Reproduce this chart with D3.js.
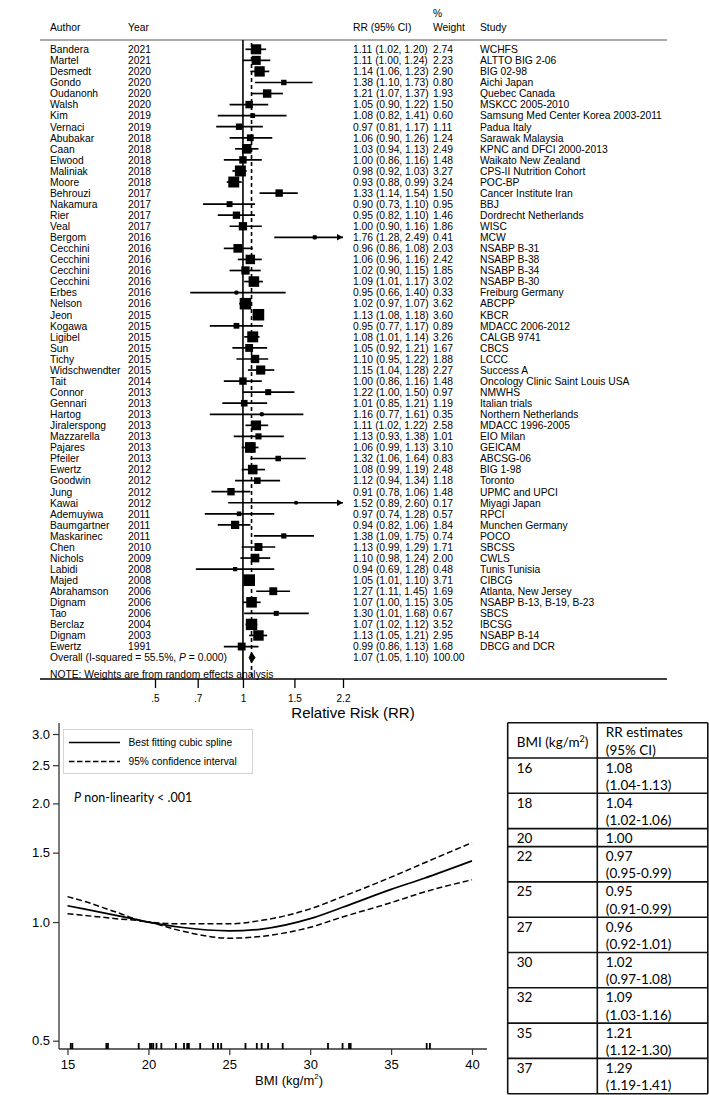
<!DOCTYPE html>
<html>
<head>
<meta charset="utf-8">
<script src="https://cdn.jsdelivr.net/npm/d3@7"></script>
<style>
body{margin:0;background:#fff;}
svg text{font-family:"Liberation Sans",Arial,Helvetica,sans-serif;fill:#000;}
svg text.cal{font-family:Lato,"Open Sans",sans-serif;}
</style>
</head>
<body>
<div id="chart"></div>
<script>

// ---------- forest plot data ----------
var authors = ["Bandera","Martel","Desmedt","Gondo","Oudanonh","Walsh","Kim","Vernaci","Abubakar","Caan",
  "Elwood","Maliniak","Moore","Behrouzi","Nakamura","Rier","Veal","Bergom","Cecchini","Cecchini",
  "Cecchini","Cecchini","Erbes","Nelson","Jeon","Kogawa","Ligibel","Sun","Tichy","Widschwendter",
  "Tait","Connor","Gennari","Hartog","Jiralerspong","Mazzarella","Pajares","Pfeiler","Ewertz","Goodwin",
  "Jung","Kawai","Ademuyiwa","Baumgartner","Maskarinec","Chen","Nichols","Labidi","Majed","Abrahamson",
  "Dignam","Tao","Berclaz","Dignam","Ewertz"];
var years = [2021,2021,2020,2020,2020,2020,2019,2019,2018,2018,
  2018,2018,2018,2017,2017,2017,2017,2016,2016,2016,
  2016,2016,2016,2016,2015,2015,2015,2015,2015,2015,
  2014,2013,2013,2013,2013,2013,2013,2013,2012,2012,
  2012,2012,2011,2011,2011,2010,2009,2008,2008,2006,
  2006,2006,2004,2003,1991];
var rr = [1.11,1.11,1.14,1.38,1.21,1.05,1.08,0.97,1.06,1.03,
  1.00,0.98,0.93,1.33,0.90,0.95,1.00,1.76,0.96,1.06,
  1.02,1.09,0.95,1.02,1.13,0.95,1.08,1.05,1.10,1.15,
  1.00,1.22,1.01,1.16,1.11,1.13,1.06,1.32,1.08,1.12,
  0.91,1.52,0.97,0.94,1.38,1.13,1.10,0.94,1.05,1.27,
  1.07,1.30,1.07,1.13,0.99];
var rrLow = [1.02,1.00,1.06,1.10,1.07,0.90,0.82,0.81,0.90,0.94,
  0.86,0.92,0.88,1.14,0.73,0.82,0.90,1.28,0.86,0.96,
  0.90,1.01,0.66,0.97,1.08,0.77,1.01,0.92,0.95,1.04,
  0.86,1.00,0.85,0.77,1.02,0.93,0.99,1.06,0.99,0.94,
  0.78,0.89,0.74,0.82,1.09,0.99,0.98,0.69,1.01,1.11,
  1.00,1.01,1.02,1.05,0.86];
var rrHigh = [1.20,1.24,1.23,1.73,1.37,1.22,1.41,1.17,1.26,1.13,
  1.16,1.03,0.99,1.54,1.10,1.10,1.16,2.49,1.08,1.16,
  1.15,1.17,1.40,1.07,1.18,1.17,1.14,1.21,1.22,1.28,
  1.16,1.50,1.21,1.61,1.22,1.38,1.13,1.64,1.19,1.34,
  1.06,2.60,1.28,1.06,1.75,1.29,1.24,1.28,1.10,1.45,
  1.15,1.68,1.12,1.21,1.13];
var weights = [2.74,2.23,2.90,0.80,1.93,1.50,0.60,1.11,1.24,2.49,
  1.48,3.27,3.24,1.50,0.95,1.46,1.86,0.41,2.03,2.42,
  1.85,3.02,0.33,3.62,3.60,0.89,3.26,1.67,1.88,2.27,
  1.48,0.97,1.19,0.35,2.58,1.01,3.10,0.83,2.48,1.18,
  1.48,0.17,0.57,1.84,0.74,1.71,2.00,0.48,3.71,1.69,
  3.05,0.67,3.52,2.95,1.68];
var studies = ["WCHFS","ALTTO BIG 2-06","BIG 02-98","Aichi Japan","Quebec Canada","MSKCC 2005-2010",
  "Samsung Med Center Korea 2003-2011","Padua Italy","Sarawak Malaysia","KPNC and DFCI 2000-2013",
  "Waikato New Zealand","CPS-II Nutrition Cohort","POC-BP","Cancer Institute Iran","BBJ",
  "Dordrecht Netherlands","WISC","MCW","NSABP B-31","NSABP B-38","NSABP B-34","NSABP B-30",
  "Freiburg Germany","ABCPP","KBCR","MDACC 2006-2012","CALGB 9741","CBCS","LCCC","Success A",
  "Oncology Clinic Saint Louis USA","NMWHS","Italian trials","Northern Netherlands","MDACC 1996-2005",
  "EIO Milan","GEICAM","ABCSG-06","BIG 1-98","Toronto","UPMC and UPCI","Miyagi Japan","RPCI",
  "Munchen Germany","POCO","SBCSS","CWLS","Tunis Tunisia","CIBCG","Atlanta, New Jersey",
  "NSABP B-13, B-19, B-23","SBCS","IBCSG","NSABP B-14","DBCG and DCR"];
var overall = {rr: 1.07, low: 1.05, high: 1.10, weight: "100.00", i2: "55.5%", p: "0.000"};
var rrTicks = [0.5, 0.7, 1, 1.5, 2.2];
var rrTickLabels = [".5", ".7", "1", "1.5", "2.2"];

// ---------- spline plot data ----------
var bmiPoints   = [15,   16,   18,   20,   22,   25,   27,   30,   32,   35,   37,   40];
var splineRR    = [1.10, 1.08, 1.04, 1.00, 0.97, 0.95, 0.96, 1.02, 1.09, 1.21, 1.29, 1.43];
var splineUpper = [1.16, 1.13, 1.06, 1.00, 0.99, 0.99, 1.01, 1.08, 1.16, 1.30, 1.41, 1.59];
var splineLower = [1.05, 1.04, 1.02, 1.00, 0.95, 0.91, 0.92, 0.97, 1.03, 1.12, 1.19, 1.28];
var rugBmi = [15.2,15.3,17.4,17.5,19.4,20.1,20.2,20.3,20.5,20.8,21.7,22.2,22.4,22.5,23.2,
  24.0,24.3,24.5,26.0,26.7,27.0,27.4,28.3,31.1,32.0,32.4,32.5,37.2,37.4];
var bmiTicks = [15, 20, 25, 30, 35, 40];
var splineTicks = [0.5, 1.0, 1.5, 2.0, 2.5, 3.0];

// ---------- table data ----------
var tableBmi = ["16","18","20","22","25","27","30","32","35","37"];
var tableEst = ["1.08","1.04","1.00","0.97","0.95","0.96","1.02","1.09","1.21","1.29"];
var tableCI  = ["(1.04-1.13)","(1.02-1.06)","","(0.95-0.99)","(0.91-0.99)","(0.92-1.01)",
  "(0.97-1.08)","(1.03-1.16)","(1.12-1.30)","(1.19-1.41)"];


var svg = d3.select("#chart")
  .append("svg")
  .attr("width", 709)
  .attr("height", 1095);

//......................... Forest plot .........................................
function forest(){
  var x = d3.scaleLog().domain([0.5, 2.2]).range([155, 343]);
  var y = d3.scaleLinear().domain([0, 55]).range([49.3, 657.6]);
  var side = d3.scaleSqrt().domain([0, 3.71]).range([0, 11.7]);
  var xMax = 2.2;
  var fs = "10.3px";

  var g = svg.append("g").attr("class", "forest");

  // header
  var hdr = g.append("g").style("font-size", fs);
  hdr.append("text").attr("x", 50).attr("y", 31).text("Author");
  hdr.append("text").attr("x", 128).attr("y", 31).text("Year");
  hdr.append("text").attr("x", 353).attr("y", 31).text("RR (95% CI)");
  hdr.append("text").attr("x", 433).attr("y", 17).text("%");
  hdr.append("text").attr("x", 433).attr("y", 31).text("Weight");
  hdr.append("text").attr("x", 480).attr("y", 31).text("Study");

  g.append("line")
    .attr("x1", 40).attr("x2", 667).attr("y1", 40).attr("y2", 40)
    .attr("stroke", "#555").attr("stroke-width", 1);

  // reference lines
  g.append("line")
    .attr("x1", x(1)).attr("x2", x(1)).attr("y1", 40).attr("y2", 679)
    .attr("stroke", "#000").attr("stroke-width", 1.6);
  g.append("line")
    .attr("x1", x(overall.rr)).attr("x2", x(overall.rr)).attr("y1", 43).attr("y2", 679)
    .attr("stroke", "#000").attr("stroke-width", 1.6)
    .attr("stroke-dasharray", "4,3");

  var idx = d3.range(authors.length);

  var rows = g.append("g").style("font-size", fs)
    .selectAll("g")
    .data(idx)
    .enter()
    .append("g");

  rows.append("text").attr("x", 50).attr("y", function(i){return y(i)+3.8}).text(function(i){return authors[i]});
  rows.append("text").attr("x", 128).attr("y", function(i){return y(i)+3.8}).text(function(i){return years[i]});
  rows.append("text").attr("x", 353).attr("y", function(i){return y(i)+3.8})
    .text(function(i){return rr[i].toFixed(2)+" ("+rrLow[i].toFixed(2)+", "+rrHigh[i].toFixed(2)+")"});
  rows.append("text").attr("x", 433).attr("y", function(i){return y(i)+3.8}).text(function(i){return weights[i].toFixed(2)});
  rows.append("text").attr("x", 480).attr("y", function(i){return y(i)+3.8}).text(function(i){return studies[i]});

  // confidence intervals
  rows.append("line")
    .attr("x1", function(i){return x(rrLow[i])})
    .attr("x2", function(i){return x(Math.min(rrHigh[i], xMax))})
    .attr("y1", function(i){return y(i)})
    .attr("y2", function(i){return y(i)})
    .attr("stroke", "#000").attr("stroke-width", 1.7);

  rows.filter(function(i){return rrHigh[i] > xMax})
    .append("path")
    .attr("d", function(i){
      var xe = x(xMax), ye = y(i);
      return "M"+(xe-6)+","+(ye-3.2)+"L"+xe+","+ye+"L"+(xe-6)+","+(ye+3.2)+"Z";
    })
    .attr("fill", "#000");

  // weight boxes
  rows.append("rect")
    .attr("x", function(i){return x(rr[i]) - side(weights[i])/2})
    .attr("y", function(i){return y(i) - side(weights[i])/2})
    .attr("width", function(i){return side(weights[i])})
    .attr("height", function(i){return side(weights[i])})
    .attr("fill", "#000");

  rows.append("circle")
    .attr("cx", function(i){return x(rr[i])})
    .attr("cy", function(i){return y(i)})
    .attr("r", 2.1)
    .attr("fill", "#000");

  // overall row
  var yo = y(55);
  var ov = g.append("g").style("font-size", fs);
  var t = ov.append("text").attr("x", 50).attr("y", yo+3.8);
  t.append("tspan").text("Overall  (I-squared = "+overall.i2+", ");
  t.append("tspan").style("font-style", "italic").text("P");
  t.append("tspan").text(" = "+overall.p+")");
  ov.append("text").attr("x", 353).attr("y", yo+3.8)
    .text(overall.rr.toFixed(2)+" ("+overall.low.toFixed(2)+", "+overall.high.toFixed(2)+")");
  ov.append("text").attr("x", 433).attr("y", yo+3.8).text(overall.weight);
  ov.append("path")
    .attr("d", "M"+x(overall.low)+","+yo+"L"+x(overall.rr)+","+(yo-5)+"L"+x(overall.high)+","+yo+"L"+x(overall.rr)+","+(yo+5)+"Z")
    .attr("fill", "#000").attr("stroke", "#000").attr("stroke-width", 1);

  ov.append("text").attr("x", 50).attr("y", 677.5)
    .text("NOTE: Weights are from random effects analysis");

  // axis
  g.append("line")
    .attr("x1", 40).attr("x2", 667).attr("y1", 679).attr("y2", 679)
    .attr("stroke", "#000").attr("stroke-width", 1.6);

  var axis = d3.axisBottom(x)
    .tickValues(rrTicks)
    .tickFormat(function(d, i){return rrTickLabels[i]})
    .tickSize(9)
    .tickPadding(7);

  var ax = g.append("g")
    .attr("transform", "translate(0,679)")
    .call(axis);
  ax.select(".domain").remove();
  ax.selectAll(".tick line").attr("stroke", "#000").attr("stroke-width", 1.3);
  ax.selectAll(".tick text")
    .style("font-family", "'Liberation Sans',Arial,sans-serif")
    .style("font-size", "10px");

  g.append("text")
    .attr("x", 353).attr("y", 718)
    .attr("text-anchor", "middle")
    .style("font-size", "15px")
    .text("Relative Risk (RR)");
}
forest();
//-------------------------------------------------------------------------------


//......................... Spline plot .........................................
function spline(){
  var x = d3.scaleLinear().domain([15, 40]).range([67.5, 472]);
  var y = d3.scaleLog().domain([0.5, 3]).range([1040.7, 734]);

  var g = svg.append("g").attr("class", "spline");

  // axes
  var yAxis = d3.axisLeft(y)
    .tickValues(splineTicks)
    .tickFormat(d3.format(".1f"))
    .tickSize(6)
    .tickPadding(3);
  var ya = g.append("g").attr("transform", "translate(59,0)").call(yAxis);
  ya.select(".domain").remove();
  ya.selectAll(".tick line").attr("stroke", "#333").attr("stroke-width", 1.2);
  ya.selectAll(".tick text").style("font-family", "'Liberation Sans',Arial,sans-serif").style("font-size", "13px");

  var xAxis = d3.axisBottom(x)
    .tickValues(bmiTicks)
    .tickSize(6)
    .tickPadding(5);
  var xa = g.append("g").attr("transform", "translate(0,1049)").call(xAxis);
  xa.select(".domain").remove();
  xa.selectAll(".tick line").attr("stroke", "#333").attr("stroke-width", 1.2);
  xa.selectAll(".tick text").style("font-family", "'Liberation Sans',Arial,sans-serif").style("font-size", "13px");

  g.append("line")
    .attr("x1", 59).attr("x2", 59).attr("y1", 723).attr("y2", 1049)
    .attr("stroke", "#333").attr("stroke-width", 1.3);
  g.append("line")
    .attr("x1", 59).attr("x2", 487).attr("y1", 1049).attr("y2", 1049)
    .attr("stroke", "#333").attr("stroke-width", 1.3);

  var xt = g.append("text")
    .attr("x", 289).attr("y", 1085)
    .attr("text-anchor", "middle")
    .style("font-size", "13px");
  xt.append("tspan").text("BMI (kg/m");
  xt.append("tspan").attr("dy", -6).style("font-size", "8px").text("2");
  xt.append("tspan").attr("dy", 6).text(")");

  // rug
  g.append("g")
    .selectAll("line")
    .data(rugBmi)
    .enter()
    .append("line")
    .attr("x1", function(d){return x(d)})
    .attr("x2", function(d){return x(d)})
    .attr("y1", 1043)
    .attr("y2", 1049)
    .attr("stroke", "#000")
    .attr("stroke-width", 1.8);

  // curves
  var pts = d3.range(bmiPoints.length);
  function curveLine(vals){
    return d3.line()
      .x(function(i){return x(bmiPoints[i])})
      .y(function(i){return y(vals[i])})
      .curve(d3.curveMonotoneX)(pts);
  }
  g.append("path").attr("d", curveLine(splineUpper))
    .attr("fill", "none").attr("stroke", "#000").attr("stroke-width", 1.5)
    .attr("stroke-dasharray", "6,3");
  g.append("path").attr("d", curveLine(splineLower))
    .attr("fill", "none").attr("stroke", "#000").attr("stroke-width", 1.5)
    .attr("stroke-dasharray", "6,3");
  g.append("path").attr("d", curveLine(splineRR))
    .attr("fill", "none").attr("stroke", "#000").attr("stroke-width", 1.7);

  // legend
  var lg = g.append("g");
  lg.append("rect")
    .attr("x", 63.5).attr("y", 729.5).attr("width", 189).attr("height", 44)
    .attr("fill", "#fff").attr("stroke", "#d4d4d4").attr("stroke-width", 1);
  lg.append("line").attr("x1", 69).attr("x2", 120).attr("y1", 742.5).attr("y2", 742.5)
    .attr("stroke", "#000").attr("stroke-width", 1.5);
  lg.append("line").attr("x1", 69).attr("x2", 120).attr("y1", 761.5).attr("y2", 761.5)
    .attr("stroke", "#000").attr("stroke-width", 1.5).attr("stroke-dasharray", "5.5,2.5");
  lg.append("text").attr("x", 128.5).attr("y", 746.2).style("font-size", "10.2px")
    .text("Best fitting cubic spline");
  lg.append("text").attr("x", 128.5).attr("y", 765.2).style("font-size", "10.2px")
    .text("95% confidence interval");

  var pt = g.append("text").attr("class", "cal")
    .attr("x", 74).attr("y", 801.5)
    .style("font-size", "12.5px");
  pt.append("tspan").style("font-style", "italic").text("P");
  pt.append("tspan").text(" non-linearity < .001");
}
spline();
//-------------------------------------------------------------------------------


//......................... Table ...............................................
function table(){
  var left = 507.7, mid = 597.3, right = 707.8, top = 722.7;
  var tall = 35.3, short = 18;
  var g = svg.append("g").attr("class", "rrtable");

  var heights = [tall].concat(tableCI.map(function(c){return c == "" ? short : tall}));
  var tops = [top];
  heights.forEach(function(h, i){tops.push(tops[i] + h)});
  var bottom = tops[tops.length-1];

  g.selectAll("line.row")
    .data(tops)
    .enter()
    .append("line")
    .attr("class", "row")
    .attr("x1", left).attr("x2", right)
    .attr("y1", function(d){return d}).attr("y2", function(d){return d})
    .attr("stroke", "#111").attr("stroke-width", 1.6);

  [left, mid, right].forEach(function(xv){
    g.append("line")
      .attr("x1", xv).attr("x2", xv).attr("y1", top).attr("y2", bottom)
      .attr("stroke", "#111").attr("stroke-width", 1.6);
  });

  var fs = "13.5px";
  var c1 = left + 9, c2 = mid + 8.5;

  var h1 = g.append("text").attr("class", "cal")
    .attr("x", c1).attr("y", top + 24.5).style("font-size", fs);
  h1.append("tspan").text("BMI (kg/m");
  h1.append("tspan").attr("dy", -5).style("font-size", "9px").text("2");
  h1.append("tspan").attr("dy", 5).text(")");
  g.append("text").attr("class", "cal").attr("x", c2).attr("y", top + 14.5).style("font-size", fs).text("RR estimates");
  g.append("text").attr("class", "cal").attr("x", c2).attr("y", top + 31.8).style("font-size", fs).text("(95% CI)");

  tableBmi.forEach(function(b, i){
    var t0 = tops[i+1];
    g.append("text").attr("class", "cal").attr("x", c1).attr("y", t0 + 14.5).style("font-size", fs).text(b);
    g.append("text").attr("class", "cal").attr("x", c2).attr("y", t0 + 14.5).style("font-size", fs).text(tableEst[i]);
    if (tableCI[i] != ""){
      g.append("text").attr("class", "cal").attr("x", c2).attr("y", t0 + 31.8).style("font-size", fs).text(tableCI[i]);
    }
  });
}
table();
//-------------------------------------------------------------------------------

</script>
</body>
</html>
